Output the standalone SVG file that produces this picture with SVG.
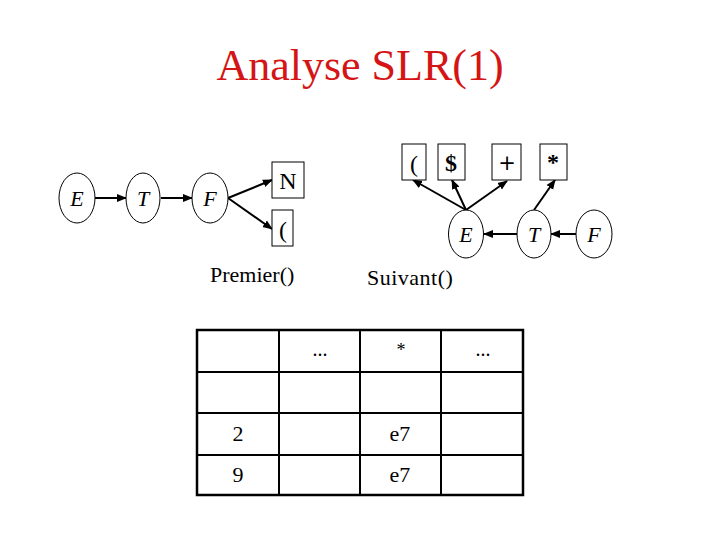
<svg xmlns="http://www.w3.org/2000/svg" width="720" height="540" viewBox="0 0 720 540">
<style>
.t{font-family:"Liberation Serif","Times New Roman",serif;fill:#000}
.i{font-style:italic;font-size:22px;text-anchor:middle}
.b{font-size:24px;text-anchor:middle}
.n ellipse{fill:#fff;stroke:#000;stroke-width:1}
.n rect{fill:#fff;stroke:#000;stroke-width:1}
.c line{stroke:#000;stroke-width:2;marker-end:url(#a)}
.g line{stroke:#000;stroke-width:2}
</style>
<defs>
<marker id="a" viewBox="0 0 10 10" refX="9" refY="5" markerWidth="5" markerHeight="5" orient="auto" markerUnits="strokeWidth">
<path d="M0,1 L10,5 L0,9 z" fill="#000"/>
</marker>
</defs>
<rect width="720" height="540" fill="#fff"/>
<text class="t" x="360" y="80" font-size="44" text-anchor="middle" style="fill:#d51515">Analyse SLR(1)</text>

<g class="c" id="connectors">
<line x1="95" y1="198" x2="126" y2="198"/>
<line x1="161" y1="198" x2="192" y2="198"/>
<line x1="228" y1="198" x2="272" y2="180"/>
<line x1="228" y1="198" x2="272" y2="229"/>
<line x1="466" y1="210" x2="413" y2="180"/>
<line x1="466" y1="210" x2="452" y2="180"/>
<line x1="466" y1="210" x2="507" y2="181"/>
<line x1="534" y1="210" x2="555" y2="180"/>
<line x1="576" y1="234" x2="551" y2="234"/>
<line x1="517" y1="234" x2="484" y2="234"/>
</g>

<g class="n" id="nE1"><ellipse cx="77" cy="198" rx="18" ry="25"/><text class="t i" x="77" y="206">E</text></g>
<g class="n" id="nT1"><ellipse cx="143" cy="198" rx="17" ry="25"/><text class="t i" x="143" y="206">T</text></g>
<g class="n" id="nF1"><ellipse cx="210" cy="198" rx="18" ry="25"/><text class="t i" x="210" y="206">F</text></g>
<g class="n" id="nN"><rect x="272" y="162" width="32" height="36"/><text class="t b" x="288" y="189">N</text></g>
<g class="n" id="nP1"><rect x="272" y="210" width="21" height="36"/><text class="t b" x="283" y="238" font-size="28">(</text></g>

<g class="n" id="nP2"><rect x="402" y="144" width="24" height="36"/><text class="t b" x="414" y="172" font-size="28">(</text></g>
<g class="n" id="nD"><rect x="438" y="144" width="27" height="36"/><text class="t b" x="451" y="171" font-size="26" font-weight="bold">$</text></g>
<g class="n" id="nPlus"><rect x="492" y="144" width="29" height="36"/><text x="507" y="170" font-size="21" text-anchor="middle" font-family="DejaVu Sans, sans-serif">+</text></g>
<g class="n" id="nStar"><rect x="540" y="144" width="27" height="36"/><text class="t b" x="553" y="170" font-size="20" font-weight="bold">*</text></g>
<g class="n" id="nE2"><ellipse cx="466" cy="234" rx="17.5" ry="24"/><text class="t i" x="466" y="242">E</text></g>
<g class="n" id="nT2"><ellipse cx="534" cy="234" rx="17" ry="24"/><text class="t i" x="534" y="242">T</text></g>
<g class="n" id="nF2"><ellipse cx="594" cy="234" rx="18" ry="24"/><text class="t i" x="594" y="242">F</text></g>

<text class="t" x="210" y="282" font-size="22">Premier()</text>
<text class="t" x="367" y="285" font-size="22" letter-spacing="0.5">Suivant()</text>

<g class="g" id="table">
<rect x="197" y="330" width="326" height="165" fill="none" stroke="#000" stroke-width="2.5"/>
<line x1="279" y1="330" x2="279" y2="495"/>
<line x1="360" y1="330" x2="360" y2="495"/>
<line x1="441" y1="330" x2="441" y2="495"/>
<line x1="197" y1="372" x2="523" y2="372"/>
<line x1="197" y1="413" x2="523" y2="413"/>
<line x1="197" y1="455" x2="523" y2="455"/>
<text class="t" x="320" y="356" font-size="20" text-anchor="middle">...</text>
<text class="t" x="401" y="356" font-size="18" text-anchor="middle">*</text>
<text class="t" x="483" y="356" font-size="20" text-anchor="middle">...</text>
<text class="t" x="238" y="441" font-size="22" text-anchor="middle">2</text>
<text class="t" x="400" y="441" font-size="22" text-anchor="middle">e7</text>
<text class="t" x="238" y="482" font-size="22" text-anchor="middle">9</text>
<text class="t" x="400" y="482" font-size="22" text-anchor="middle">e7</text>
</g>
</svg>
